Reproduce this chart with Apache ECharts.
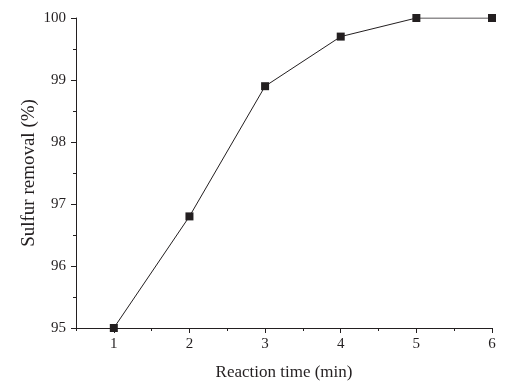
<!DOCTYPE html>
<html>
<head>
<meta charset="utf-8">
<script src="https://cdn.jsdelivr.net/npm/echarts@6/dist/echarts.min.js"></script>
<style>
  html, body { margin: 0; padding: 0; background: #fff; }
  #chart1 { width: 507px; height: 387px; }
</style>
</head>
<body>
<div id="chart1"></div>
<script>
// 数据
var times = [1, 2, 3, 4, 5, 6];
var removal = [95, 96.8, 98.9, 99.7, 100, 100];
var xMajor = [1, 2, 3, 4, 5, 6];
var xMinor = [0.5, 1.5, 2.5, 3.5, 4.5, 5.5];
var yMajor = [95, 96, 97, 98, 99, 100];
var yMinor = [95.5, 96.5, 97.5, 98.5, 99.5];

var mychart = echarts.init(document.getElementById('chart1'));

var font = '"Liberation Serif", "Times New Roman", serif';
var ink = '#231f20';

var pts = [];
for (var i = 0; i < times.length; i++) {
    pts.push([times[i], removal[i]]);
}

var option = {
    animation: false,
    backgroundColor: '#fff',
    grid: { left: 76, top: 18, right: 15, bottom: 59, containLabel: false },
    xAxis: [{
        type: 'value',
        min: 0.5,
        max: 6,
        interval: 0.5,
        name: 'Reaction time (min)',
        nameLocation: 'middle',
        nameGap: 36,
        nameMoveOverlap: false,
        nameTextStyle: { fontFamily: font, fontSize: 17, color: ink },
        axisLine: { show: true, onZero: false, lineStyle: { color: ink, width: 1 } },
        axisTick: { show: true, length: 5, customValues: xMajor, lineStyle: { color: ink } },
        axisLabel: { customValues: xMajor, margin: 9, fontFamily: font, fontSize: 15, color: ink },
        splitLine: { show: false }
    }, {
        type: 'value',
        min: 0.5,
        max: 6,
        interval: 0.5,
        position: 'bottom',
        axisLine: { show: false, onZero: false },
        axisTick: { show: true, length: 3, customValues: xMinor, lineStyle: { color: ink } },
        axisLabel: { show: false },
        splitLine: { show: false }
    }],
    yAxis: [{
        type: 'value',
        min: 95,
        max: 100,
        interval: 1,
        name: 'Sulfur removal (%)',
        nameLocation: 'middle',
        nameGap: 37,
        nameMoveOverlap: false,
        nameTextStyle: { fontFamily: font, fontSize: 19, color: ink },
        axisLine: { show: true, onZero: false, lineStyle: { color: ink, width: 1 } },
        axisTick: { show: true, length: 5, customValues: yMajor, lineStyle: { color: ink } },
        axisLabel: { customValues: yMajor, margin: 10, fontFamily: font, fontSize: 15, color: ink },
        splitLine: { show: false }
    }, {
        type: 'value',
        min: 95,
        max: 100,
        interval: 0.5,
        position: 'left',
        axisLine: { show: false, onZero: false },
        axisTick: { show: true, length: 3, customValues: yMinor, lineStyle: { color: ink } },
        axisLabel: { show: false },
        splitLine: { show: false }
    }],
    series: [{
        name: 'Sulfur removal',
        type: 'line',
        data: pts,
        symbol: 'rect',
        symbolSize: 8,
        lineStyle: { color: ink, width: 1 },
        itemStyle: { color: ink }
    }]
};

mychart.setOption(option);
</script>
</body>
</html>
